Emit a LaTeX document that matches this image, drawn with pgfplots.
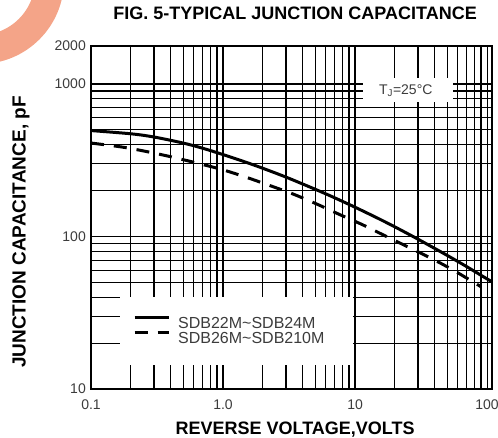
\documentclass[border=0pt]{standalone}
\usepackage{fontspec}
\setmainfont{Liberation Sans}
\usepackage{pgfplots}
\pgfplotsset{compat=1.18}
\definecolor{salmon}{RGB}{244,164,136}
\definecolor{ticktext}{RGB}{60,60,60}
\begin{document}
\begin{tikzpicture}
\useasboundingbox (0pt,0pt) rectangle (498pt,437pt);
\begin{scope}
\clip (0pt,0pt) rectangle (498pt,437pt);
\draw[line width=29pt, salmon] (-20pt,457pt) circle (69.5pt);
\end{scope}
\begin{axis}[
  at={(91pt,48pt)}, anchor=south west,
  scale only axis, width=401pt, height=343pt,
  xmode=log, ymode=log,
  xmin=0.1, xmax=109, ymin=10, ymax=1775,
  xtick={0.1,1,10,100}, xticklabels={0.1,1.0,10,100},
  ytick={10,100,1000,1775}, yticklabels={10,100,1000,2000},
  minor xtick={0.2,0.3,0.4,0.5,0.6,0.7,0.8,0.9,2,3,4,5,6,7,8,9,20,30,40,50,60,70,80,90},
  minor ytick={20,30,40,50,60,70,80,90,200,300,400,500,600,700,800,900},
  grid=both,
  major grid style={black, line width=1.1pt},
  minor grid style={black, line width=1.1pt},
  axis line style={black, line width=1.4pt},
  major tick length=0pt, minor tick length=0pt,
  /pgf/number format/assume math mode=true,
  tick label style={font=\fontsize{14}{14}\selectfont, text=ticktext},
  xticklabel style={anchor=center, yshift=-16pt},
  yticklabel style={anchor=east, inner sep=0pt, xshift=-5pt},
  xlabel={\textbf{REVERSE VOLTAGE,VOLTS}},
  ylabel={\textbf{JUNCTION CAPACITANCE, pF}},
  xlabel style={at={(axis description cs:0.509,-0.117)}, anchor=center, inner sep=0pt, font=\fontsize{18}{18}\selectfont},
  ylabel style={at={(axis description cs:-0.1746,0.4577)}, anchor=center, inner sep=0pt, font=\fontsize{19}{19}\selectfont},
  title={\textbf{FIG. 5-TYPICAL JUNCTION CAPACITANCE}},
  title style={at={(axis description cs:0.509,1.077)}, anchor=center, inner sep=0pt, font=\fontsize{18}{18}\selectfont},
  legend style={draw=none, fill=none, at={(axis description cs:0.1047,0.2129)}, anchor=north west,
    inner sep=0pt, row sep=1pt, column sep=0pt,
    nodes={inner sep=0pt, font=\fontsize{16}{16}\selectfont, text=ticktext}},
  legend cell align=left,
  legend image code/.code={\draw[#1] (0pt,6pt) -- (34pt,6pt);},
]
\addplot[black, line width=3pt, smooth, tension=0.5] coordinates {
(0.1,495) (0.2,471.6) (0.3,449.2) (0.5,409.8) (0.7,379.3) (1,344.5) (1.5,306.3)
(2,280.2) (3,245.1) (5,203.9) (7,179.5) (10,155.6) (15,131.3) (20,115.7)
(30,96.0) (50,75.1) (70,63.5) (100,52.7) (109,50.6)};
\addlegendentry{\hspace{8pt}SDB22M\textasciitilde SDB24M}
\addplot[black, line width=3pt, dash pattern=on 13pt off 10pt, smooth, tension=0.5] coordinates {
(0.1,410) (0.172,386) (0.266,360) (0.411,332) (0.635,303) (0.98,275) (1.47,246)
(2.19,218) (3.39,190) (5.15,163) (7.69,139) (11.5,119) (16.9,101) (25.1,85.5)
(38.3,71.5) (55.2,60.3) (81.1,49.5) (90,46.8)};
\addlegendentry{\hspace{8pt}SDB26M\textasciitilde SDB210M}
\fill[white] (axis description cs:0.0723,0.070) rectangle (axis description cs:0.653,0.268);
\fill[white] (axis description cs:0.678,0.837) rectangle (axis description cs:0.903,0.907);
\node[font=\fontsize{14}{14}\selectfont, text=ticktext] at (axis description cs:0.785,0.869) {T\textsubscript{J}=25°C};
\end{axis}
\end{tikzpicture}
\end{document}
